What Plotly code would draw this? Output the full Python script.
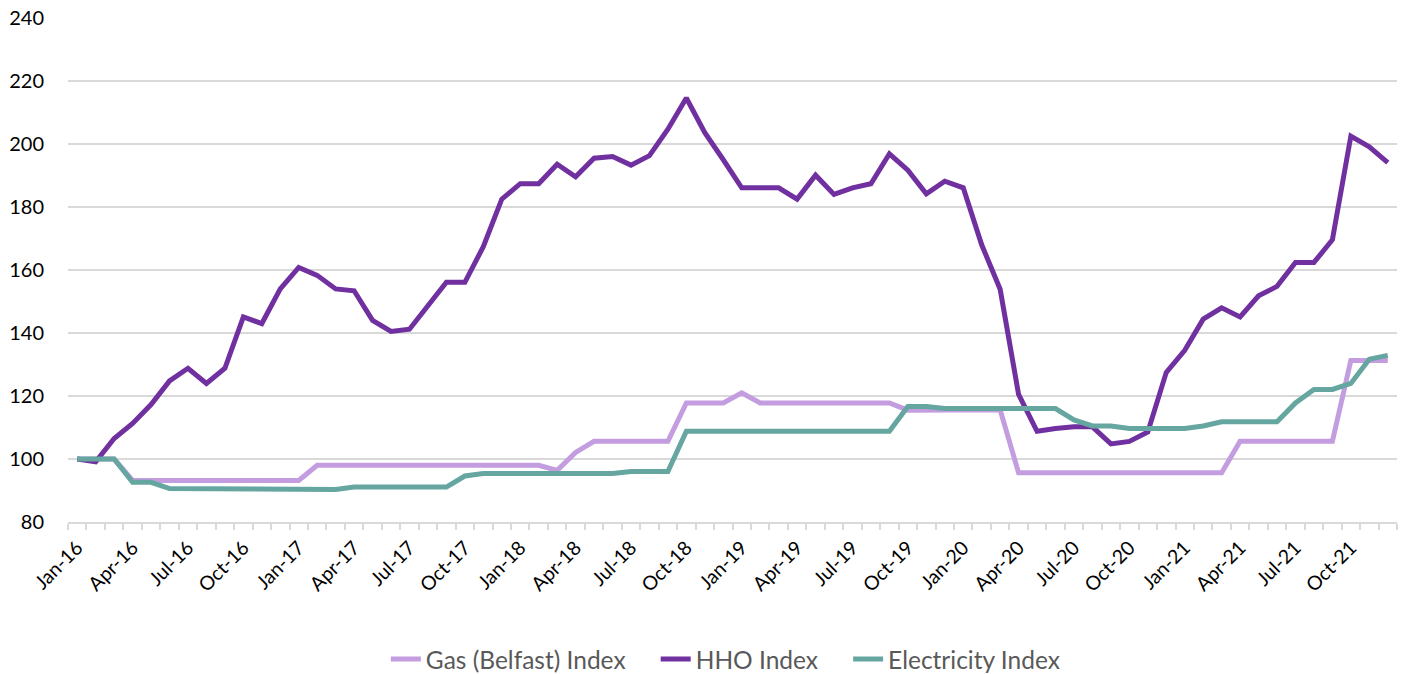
import plotly.graph_objects as go

months = ["Jan", "Feb", "Mar", "Apr", "May", "Jun", "Jul", "Aug", "Sep", "Oct", "Nov", "Dec"]
years = ["16", "17", "18", "19", "20", "21"]
categories = [f"{m}-{y}" for y in years for m in months]

hho = [100, 99.1, 106.5, 111.3, 117.3, 124.8, 128.8, 124.0, 128.8, 145.1, 143.0, 154.0,
       160.8, 158.3, 154.0, 153.4, 144.0, 140.5, 141.2, 148.6, 156.1, 156.1, 167.4, 182.5,
       187.4, 187.4, 193.6, 189.6, 195.5, 196.0, 193.3, 196.3, 204.7, 214.6, 203.6, 195.0,
       186.1, 186.1, 186.1, 182.5, 190.1, 184.0, 186.1, 187.4, 196.9, 191.7, 184.2, 188.2,
       186.1, 168.0, 153.9, 120.5, 108.8, 109.7, 110.2, 110.2, 104.8, 105.6, 108.6, 127.5,
       134.5, 144.4, 148.0, 145.1, 151.8, 154.8, 162.4, 162.4, 169.6, 202.5, 199.1, 194.1]

gas = [100, 100, 100, 93.2, 93.2, 93.2, 93.2, 93.2, 93.2, 93.2, 93.2, 93.2,
       93.2, 98.0, 98.0, 98.0, 98.0, 98.0, 98.0, 98.0, 98.0, 98.0, 98.0, 98.0,
       98.0, 98.0, 96.4, 102.1, 105.6, 105.6, 105.6, 105.6, 105.6, 117.8, 117.8, 117.8,
       121.0, 117.8, 117.8, 117.8, 117.8, 117.8, 117.8, 117.8, 117.8, 115.5, 115.5, 115.6,
       115.6, 115.6, 115.6, 95.6, 95.6, 95.6, 95.6, 95.6, 95.6, 95.6, 95.6, 95.6,
       95.6, 95.6, 95.6, 105.6, 105.6, 105.6, 105.6, 105.6, 105.6, 131.3, 131.3, 131.3]

elec = [100, 100, 100, 92.6, 92.6, 90.6, 90.6, 90.6, 90.6, 90.6, 90.6, 90.6,
        90.6, 90.3, 90.3, 91.1, 91.1, 91.1, 91.1, 91.1, 91.1, 94.6, 95.4, 95.4,
        95.4, 95.4, 95.4, 95.4, 95.4, 95.4, 96.0, 96.0, 96.0, 108.8, 108.8, 108.8,
        108.8, 108.8, 108.8, 108.8, 108.8, 108.8, 108.8, 108.8, 108.8, 116.7, 116.7, 116.0,
        116.0, 116.0, 116.0, 116.0, 116.0, 116.0, 112.4, 110.5, 110.5, 109.7, 109.7, 109.7,
        109.7, 110.5, 111.8, 111.8, 111.8, 111.8, 117.8, 122.1, 122.1, 124.0, 131.7, 132.9]

series = [
    ("Gas (Belfast) Index", gas, "#C39DDF"),
    ("HHO Index", hho, "#7030A0"),
    ("Electricity Index", elec, "#66A6A0"),
]

FONT = "Lato, 'Open Sans', sans-serif"
PAD = "\u00a0" * 4

fig = go.Figure()
for k, (name, vals, color) in enumerate(series):
    fig.add_trace(go.Scatter(
        x=categories, y=vals, name=name + (PAD if k < len(series) - 1 else ""),
        mode="lines", line=dict(color=color, width=5),
    ))

ticktext = [c if i % 3 == 0 else "" for i, c in enumerate(categories)]

fig.update_layout(
    width=1410, height=674,
    margin=dict(l=68, r=13, t=18, b=152, autoexpand=False),
    paper_bgcolor="white", plot_bgcolor="white",
    font=dict(family=FONT, size=20, color="#000000"),
    showlegend=True,
    legend=dict(
        orientation="h", x=0.495, xanchor="center", y=-0.272, yanchor="middle",
        font=dict(size=24.5, color="#595959"), traceorder="normal",
    ),
    xaxis=dict(
        type="category", automargin=False,
        range=[-0.5, len(categories) - 0.5],
        tickmode="array", tickvals=categories, ticktext=ticktext,
        tickson="boundaries",
        ticks="outside", ticklen=6, tickcolor="#D9D9D9", tickwidth=1.5,
        tickangle=-45, tickfont=dict(size=19.5, color="#000000"),
        ticklabelstandoff=5,
        showline=True, linecolor="#D9D9D9", linewidth=1.5,
        showgrid=False, zeroline=False,
    ),
    yaxis=dict(
        range=[80, 240], dtick=20, tick0=80, automargin=False,
        showgrid=True, gridcolor="#D9D9D9", gridwidth=1.5,
        zeroline=False, showline=False,
        ticks="", ticklabelstandoff=23,
        tickfont=dict(size=20, color="#000000"),
    ),
)

fig.write_html(
    "out.html",
    config={"displayModeBar": False},
    post_script="document.body.style.margin='0';document.body.style.overflow='hidden';",
)
